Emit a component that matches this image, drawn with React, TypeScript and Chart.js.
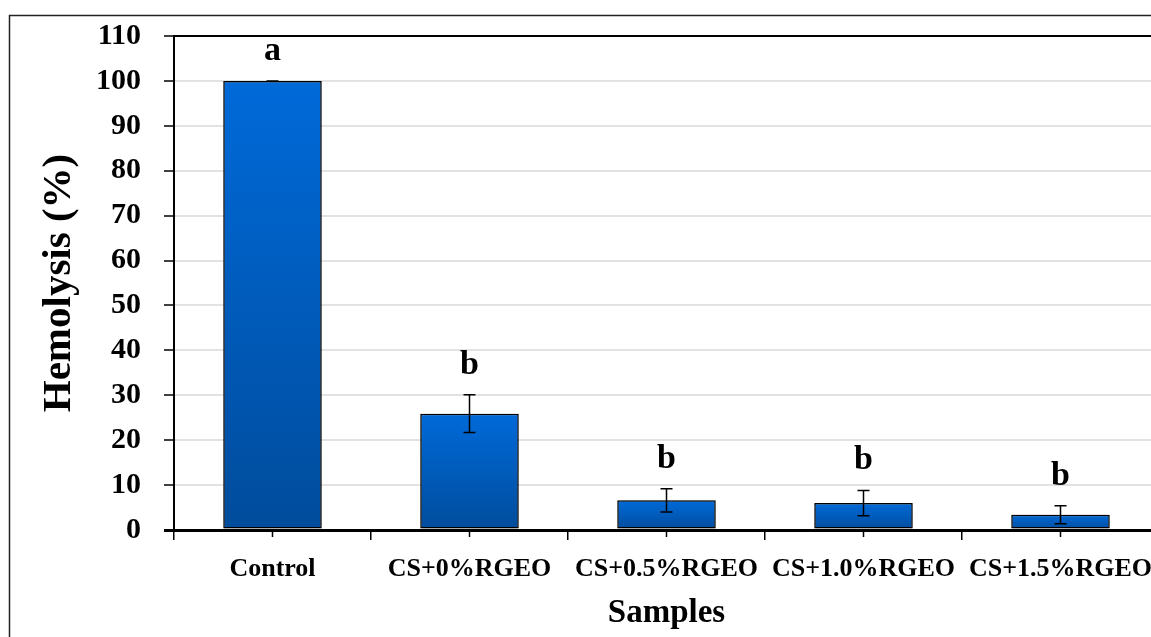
import { useEffect, useRef } from 'react';
import { Chart, registerables } from 'chart.js';

Chart.register(...registerables);

const categories = ['Control', 'CS+0%RGEO', 'CS+0.5%RGEO', 'CS+1.0%RGEO', 'CS+1.5%RGEO'];
const hemolysis = [100, 25.9, 6.6, 6.0, 3.4];
const errors = [0, 4.2, 2.6, 2.8, 2.0];
const letters = ['a', 'b', 'b', 'b', 'b'];
const yMin = 0;
const yMax = 110;
const yStep = 5;
const yLabelStep = 10;
const xTitle = 'Samples';
const yTitle = 'Hemolysis (%)';

const W = 1180;
const H = 670;
const FONT = "'Liberation Serif', 'Times New Roman', serif";

const extrasPlugin = {
  id: 'extras',
  beforeDatasetsDraw(chart: any) {
    const c = chart.ctx;
    c.save();
    c.shadowColor = 'rgba(0,0,0,0.35)';
    c.shadowBlur = 6;
    c.shadowOffsetX = 0;
    c.shadowOffsetY = 0;
  },
  afterDatasetsDraw(chart: any) {
    const c = chart.ctx;
    c.restore();
    const y = chart.scales.y;
    const meta = chart.getDatasetMeta(0);
    c.save();
    c.strokeStyle = '#000';
    c.lineWidth = 1.5;
    meta.data.forEach((bar: any, i: number) => {
      const x = bar.x;
      const top = y.getPixelForValue(hemolysis[i] + errors[i]);
      const bot = y.getPixelForValue(hemolysis[i] - errors[i]);
      c.beginPath();
      c.moveTo(x, top);
      c.lineTo(x, bot);
      c.moveTo(x - 6, top);
      c.lineTo(x + 6, top);
      c.moveTo(x - 6, bot);
      c.lineTo(x + 6, bot);
      c.stroke();
      c.fillStyle = '#000';
      c.font = `bold 34px ${FONT}`;
      c.textAlign = 'center';
      c.textBaseline = 'alphabetic';
      c.fillText(letters[i], x, top - 21);
    });
    c.restore();
  },
  afterDraw(chart: any) {
    const c = chart.ctx;
    const area = chart.chartArea;
    const meta = chart.getDatasetMeta(0);
    c.save();
    c.strokeStyle = '#000';
    c.lineWidth = 1.5;
    meta.data.forEach((bar: any) => {
      c.beginPath();
      c.moveTo(bar.x, area.bottom + 1);
      c.lineTo(bar.x, area.bottom + 7);
      c.stroke();
    });
    c.strokeStyle = '#222';
    c.lineWidth = 1.5;
    c.strokeRect(9.5, 15.5, W + 50, H + 50);
    c.restore();
  },
};

export default function App() {
  const ref = useRef<HTMLCanvasElement | null>(null);

  useEffect(() => {
    document.documentElement.style.overflow = 'hidden';
    const canvas = ref.current;
    if (!canvas) return;
    const chart = new Chart(canvas, {
      type: 'bar',
      data: {
        labels: categories,
        datasets: [
          {
            data: hemolysis,
            backgroundColor: (ctx: any) => {
              const ch = ctx.chart;
              if (!ch.chartArea || ctx.type !== 'data') return '#005bbb';
              const ys = ch.scales.y;
              const t = ys.getPixelForValue(ctx.raw);
              const b = ys.getPixelForValue(0);
              if (!isFinite(t) || !isFinite(b) || t === b) return '#005bbb';
              const g = ch.ctx.createLinearGradient(0, t, 0, b);
              g.addColorStop(0, '#006ad9');
              g.addColorStop(1, '#004c9c');
              return g;
            },
            borderColor: '#000',
            borderWidth: 1.5,
            borderSkipped: false,
            barPercentage: 1,
            categoryPercentage: 0.5,
          },
        ],
      },
      options: {
        responsive: false,
        animation: false,
        devicePixelRatio: 1,
        layout: { padding: { left: 0, right: 21, top: 36, bottom: 0 } },
        plugins: {
          legend: { display: false },
          tooltip: { enabled: false },
        },
        scales: {
          x: {
            afterFit: (s: any) => {
              s.height = 140;
              s.paddingLeft = 0;
              s.paddingRight = 0;
            },
            grid: {
              display: true,
              drawOnChartArea: false,
              drawTicks: true,
              tickLength: 10,
              color: '#000',
              lineWidth: 1.5,
              offset: true,
            },
            border: { display: true, color: '#000', width: 3 },
            ticks: {
              color: '#000',
              font: { family: FONT, size: 26, weight: 'bold' },
              padding: 14,
              maxRotation: 0,
              minRotation: 0,
              autoSkip: false,
            },
            title: {
              display: true,
              text: xTitle,
              color: '#000',
              font: { family: FONT, size: 33, weight: 'bold' },
              padding: { top: 0, bottom: 37 },
            },
          },
          y: {
            min: yMin,
            max: yMax,
            afterFit: (s: any) => {
              s.width = 174;
              s.paddingTop = 0;
              s.paddingBottom = 0;
            },
            ticks: {
              stepSize: yStep,
              color: '#000',
              font: { family: FONT, size: 30, weight: 'bold' },
              padding: 23,
              callback: (v: any) => (Number(v) % yLabelStep === 0 ? String(v) : ''),
            },
            grid: {
              display: true,
              drawTicks: true,
              tickLength: 10,
              color: (ctx: any) => {
                const v = ctx.tick ? ctx.tick.value : 0;
                if (v === yMax) return '#000';
                if (v === 0) return '#000';
                return v % yLabelStep === 0 ? '#e2e2e2' : 'rgba(0,0,0,0)';
              },
              lineWidth: (ctx: any) => {
                const v = ctx.tick ? ctx.tick.value : 0;
                if (v === 0) return 3;
                return 2;
              },
              tickColor: '#000',
              tickWidth: (ctx: any) => {
                const v = ctx.tick ? ctx.tick.value : 0;
                return v === 0 ? 3 : 1.5;
              },
            },
            border: { display: true, color: '#000', width: 2 },
            title: {
              display: true,
              text: yTitle,
              color: '#000',
              font: { family: FONT, size: 41, weight: 'bold' },
              padding: { top: 35, bottom: 0 },
            },
          },
        },
      },
      plugins: [extrasPlugin],
    } as any);
    return () => chart.destroy();
  }, []);

  return (
    <div style={{ position: 'fixed', left: 0, top: 0, width: W, height: H, background: '#fff' }}>
      <canvas ref={ref} width={W} height={H} style={{ width: W, height: H, display: 'block' }} />
    </div>
  );
}
